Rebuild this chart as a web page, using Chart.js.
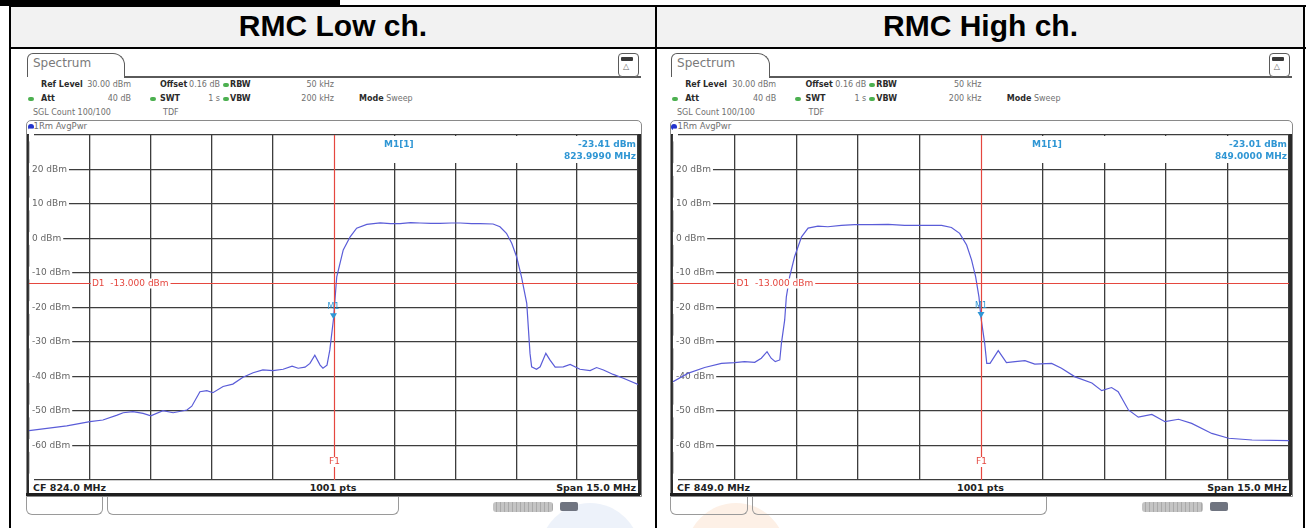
<!DOCTYPE html>
<html>
<head>
<meta charset="utf-8">
<script src="https://cdn.jsdelivr.net/npm/chart.js@4.4.0/dist/chart.umd.min.js"></script>
<style>
    body { margin: 0; width: 1306px; height: 528px; background: #fff; position: relative; overflow: hidden; font-family: "DejaVu Sans", sans-serif; }
    .a { position: absolute; white-space: nowrap; }
    .title { font-family: "Liberation Sans", Arial, sans-serif; font-weight: bold; font-size: 30px; color: #000; text-align: center; top: 8px; line-height: 36px; }
    .hd { font-size: 8px; line-height: 10px; color: #707070; }
    .hd b { color: #2b2b2b; }
    .dot { width: 6px; height: 4px; border-radius: 3px; background: #4cb050; }
    .ft { font-size: 9.5px; font-weight: bold; color: #222; line-height: 11px; }
    canvas { position: absolute; }
</style>
</head>
<body>
<div id="page"></div>
<script>
// ---- data ----
const levelTicks = [30, 20, 10, 0, -10, -20, -30, -40, -50, -60, -70];

const lowFreqTicks = [816.5, 818.0, 819.5, 821.0, 822.5, 824.0, 825.5, 827.0, 828.5, 830.0, 831.5];
const lowFreq = [816.5, 817.43, 818.0, 818.32, 818.67, 818.82, 819.06, 819.31, 819.5, 819.8, 820.05, 820.39, 820.51, 820.71, 820.88, 821.03, 821.28, 821.52, 821.77, 822.02, 822.26, 822.51, 822.76, 822.98, 823.13, 823.3, 823.42, 823.54, 823.67, 823.74, 823.84, 823.91, 823.999, 824.08, 824.24, 824.41, 824.57, 824.82, 825.15, 825.4, 825.64, 825.9, 826.13, 826.4, 826.62, 826.9, 827.12, 827.4, 827.61, 827.93, 828.1, 828.26, 828.39, 828.51, 828.63, 828.76, 828.84, 828.88, 829.0, 829.09, 829.23, 829.33, 829.46, 829.66, 829.83, 830.07, 830.32, 830.48, 830.65, 830.89, 831.14, 831.5];
const lowLevel = [-55.7, -54.3, -53.1, -52.6, -51.2, -50.5, -50.2, -50.7, -51.4, -49.9, -50.5, -49.7, -48.6, -44.4, -44.1, -44.7, -42.9, -42.2, -40.2, -38.9, -38.1, -38.3, -37.9, -37.0, -37.6, -37.3, -36.2, -33.8, -36.7, -37.6, -36.7, -32.3, -23.41, -11.1, -3.3, 0.5, 3.0, 4.1, 4.5, 4.3, 4.3, 4.6, 4.5, 4.4, 4.4, 4.5, 4.5, 4.3, 4.3, 4.2, 3.4, 1.5, -1.4, -5.3, -11.1, -18.8, -33.3, -37.2, -37.9, -37.2, -33.3, -35.2, -37.3, -37.2, -36.5, -37.9, -38.3, -37.4, -38.1, -39.4, -40.5, -42.3];

const highFreqTicks = [841.5, 843.0, 844.5, 846.0, 847.5, 849.0, 850.5, 852.0, 853.5, 855.0, 856.5];
const highFreq = [841.5, 841.86, 842.27, 842.68, 843.0, 843.24, 843.49, 843.65, 843.79, 843.89, 843.99, 844.1, 844.14, 844.22, 844.26, 844.34, 844.46, 844.63, 844.79, 845.03, 845.27, 845.6, 845.92, 846.33, 846.74, 847.14, 847.55, 848.04, 848.28, 848.48, 848.65, 848.77, 848.87, 848.95, 849.0, 849.09, 849.14, 849.22, 849.42, 849.62, 849.83, 850.07, 850.31, 850.72, 850.96, 851.29, 851.7, 851.94, 852.18, 852.34, 852.59, 852.83, 853.16, 853.48, 853.81, 854.13, 854.62, 855.03, 855.6, 856.5];
const highLevel = [-41.5, -39.1, -37.4, -36.2, -36.0, -35.7, -35.9, -34.7, -32.8, -34.7, -35.7, -35.2, -30.4, -23.6, -16.9, -11.1, -5.3, 0.5, 3.0, 3.6, 3.4, 3.8, 4.0, 4.0, 4.1, 3.8, 3.8, 3.8, 3.2, 1.5, -1.9, -6.2, -11.1, -16.9, -23.01, -30.4, -36.2, -36.2, -32.5, -36.0, -35.7, -35.4, -36.4, -36.2, -37.6, -40.1, -41.9, -44.1, -43.2, -44.4, -49.7, -51.8, -51.0, -53.1, -52.4, -53.6, -56.5, -57.9, -58.4, -58.6];

const displayLine = -13;
const RED = "#e5473f";
const BLUE = "#2f96d4";
const TRACE = "#5a5cd8";
const GRID = "#3d3d3d";

const panels = [
    { title: "RMC Low ch.", colLeft: 10, colRight: 656, x0: 29, x1: 638, cf: "CF 824.0 MHz",
      freq: lowFreq, level: lowLevel, ticks: lowFreqTicks, f1: 824.0, m1: [823.999, -23.41],
      info: ["-23.41 dBm", "823.9990 MHz"] },
    { title: "RMC High ch.", colLeft: 656, colRight: 1305, x0: 673, x1: 1289, cf: "CF 849.0 MHz",
      freq: highFreq, level: highLevel, ticks: highFreqTicks, f1: 849.0, m1: [849.0, -23.01],
      info: ["-23.01 dBm", "849.0000 MHz"] }
];

const page = document.getElementById("page");

function el(cls, css, html) {
    const d = document.createElement("div");
    d.className = "a " + (cls || "");
    Object.assign(d.style, css);
    if (html) d.innerHTML = html;
    page.appendChild(d);
    return d;
}

// text whose right edge sits at x
function rightText(cls, x, top, html) {
    return el(cls, { left: (x - 200) + "px", top: top + "px", width: "200px", textAlign: "right" }, html);
}

// table frame
el("", { left: "0px", top: "0px", width: "340px", height: "6px", background: "#000" });
el("", { left: "10px", top: "5px", width: "1295px", height: "43px", background: "#f2f2f2" });
el("", { left: "9px", top: "5px", width: "1297px", height: "2px", background: "#000" });
el("", { left: "9px", top: "47px", width: "1297px", height: "2px", background: "#000" });
el("", { left: "9px", top: "5px", width: "2px", height: "523px", background: "#000" });
el("", { left: "655px", top: "5px", width: "2px", height: "523px", background: "#000" });
el("", { left: "1303px", top: "5px", width: "2px", height: "523px", background: "#000" });

// faint watermark circles
el("", { left: "540px", top: "503px", width: "100px", height: "100px", borderRadius: "50%", background: "#edf2fa" });
el("", { left: "686px", top: "503px", width: "100px", height: "100px", borderRadius: "50%", background: "#fdf0e6" });

function buildPanel(p) {
    const s = (p.x1 - p.x0) / 609;
    const xr = r => p.x0 + r * s;
    const X = r => xr(r) + "px";

    el("title", { left: p.colLeft + "px", width: (p.colRight - p.colLeft) + "px" }, p.title);

    // tab + icon
    el("", { left: X(-2), top: "53px", width: 96 * s + "px", height: "23px", border: "1.5px solid #5a5a5a",
             borderBottom: "none", borderRadius: "6px 12px 0 0", background: "#fff" });
    el("", { left: X(95), top: "76px", width: 517 * s + "px", height: "1.5px", background: "#5a5a5a" });
    el("", { left: X(4), top: "56px", fontSize: "12px", color: "#7a7a7a", lineHeight: "14px" }, "Spectrum");
    el("", { left: X(589), top: "53px", width: "19px", height: "22px", border: "1.5px solid #5a5a5a", borderRadius: "4px", background: "#fff" });
    el("", { left: X(592), top: "57px", width: "12px", height: "4px", background: "#3a3a3a", borderRadius: "1px" });
    el("", { left: X(594), top: "62px", fontSize: "8px", color: "#666", lineHeight: "9px" }, "&#9651;");

    // setting rows
    const row1 = 80, row2 = 94, row3 = 108;
    el("hd", { left: X(12), top: row1 + "px" }, "<b>Ref Level</b>");
    rightText("hd", xr(102), row1, "30.00 dBm");
    el("hd", { left: X(131), top: row1 + "px" }, "<b>Offset</b>");
    rightText("hd", xr(191), row1, "0.16 dB");
    el("dot", { left: X(194), top: (row1 + 3) + "px" });
    el("hd", { left: X(201), top: row1 + "px" }, "<b>RBW</b>");
    rightText("hd", xr(305), row1, "50 kHz");

    el("dot", { left: X(-1), top: (row2 + 3) + "px" });
    el("hd", { left: X(12), top: row2 + "px" }, "<b>Att</b>");
    rightText("hd", xr(102), row2, "40 dB");
    el("dot", { left: X(121), top: (row2 + 3) + "px" });
    el("hd", { left: X(131), top: row2 + "px" }, "<b>SWT</b>");
    rightText("hd", xr(191), row2, "1 s");
    el("dot", { left: X(194), top: (row2 + 3) + "px" });
    el("hd", { left: X(201), top: row2 + "px" }, "<b>VBW</b>");
    rightText("hd", xr(305), row2, "200 kHz");
    el("hd", { left: X(330), top: row2 + "px" }, "<b>Mode</b> Sweep");

    el("hd", { left: X(4), top: row3 + "px" }, "SGL Count 100/100");
    el("hd", { left: X(134), top: row3 + "px" }, "TDF");

    // trace window frame
    el("", { left: X(-3), top: "120px", width: 614 * s + "px", height: "375px", border: "1px solid #8a8a8a", borderRadius: "5px 5px 0 0" });
    el("", { left: X(-1.5), top: "124px", width: "6px", height: "6px", borderRadius: "50%", background: "#2233cc" });
    el("hd", { left: X(4.5), top: "121px", fontSize: "8.5px" }, "1Rm AvgPwr");
    el("", { left: X(-2), top: "134px", width: "2px", height: "361px", background: "#2a2a2a" });
    el("", { left: p.x1 + "px", top: "134px", width: "2.5px", height: "361px", background: "#2a2a2a" });
    el("", { left: X(-3), top: "493px", width: 614 * s + "px", height: "3px", background: "#1e1e1e" });

    // footer
    el("ft", { left: X(4), top: "482px" }, p.cf);
    el("ft", { left: X(254), top: "482px", width: 100 * s + "px", textAlign: "center" }, "1001 pts");
    rightText("ft", xr(607), 482, "Span 15.0 MHz");

    // soft keys
    el("", { left: X(-3), top: "497px", width: 75 * s + "px", height: "17px", border: "1px solid #9a9a9a", borderTop: "none", borderRadius: "0 0 6px 6px" });
    el("", { left: X(78), top: "497px", width: 290 * s + "px", height: "17px", border: "1px solid #9a9a9a", borderTop: "none", borderRadius: "0 0 6px 6px" });
    el("", { left: X(464), top: "502px", width: 60 * s + "px", height: "10px", borderRadius: "3px",
             background: "repeating-linear-gradient(90deg,#c4c4c4 0 3px,#a9a9a9 3px 4px)" });
    el("", { left: X(531), top: "502px", width: "18px", height: "9px", borderRadius: "2px", background: "#6f7480" });

    // chart canvas
    const cv = document.createElement("canvas");
    const cl = p.x0 - 2, ct = 120, cw = (p.x1 - p.x0) + 5, ch = 377;
    cv.style.left = cl + "px"; cv.style.top = ct + "px";
    cv.style.width = cw + "px"; cv.style.height = ch + "px";
    cv.width = cw; cv.height = ch;
    page.appendChild(cv);
    renderSpectrum(cv, p);
}

const rsOverlay = {
    id: "rsOverlay",
    beforeDatasetsDraw(chart, args, o) {
        const { ctx, chartArea: a, scales: { x } } = chart;
        const fx = x.getPixelForValue(o.f1);
        ctx.save();
        ctx.fillStyle = "#fff";
        ctx.fillRect(fx + 6, a.top + 1, a.right - fx - 7, 27);
        ctx.restore();
    },
    afterDatasetsDraw(chart, args, o) {
        const { ctx, chartArea: a, scales: { x, y } } = chart;
        const fx = Math.round(x.getPixelForValue(o.f1)) + 0.5;
        const dy = Math.round(y.getPixelForValue(o.d1)) + 0.5;
        ctx.save();
        ctx.strokeStyle = RED;
        ctx.lineWidth = 1.2;
        ctx.beginPath(); ctx.moveTo(a.left, dy); ctx.lineTo(a.right, dy); ctx.stroke();
        ctx.beginPath(); ctx.moveTo(fx, a.top); ctx.lineTo(fx, a.bottom); ctx.stroke();

        // display line label
        ctx.font = '9px "DejaVu Sans"';
        ctx.textBaseline = "middle";
        const lbl = "D1  -13.000 dBm";
        const lx = x.getPixelForValue(o.ticks[1]) + 2;
        const w = ctx.measureText(lbl).width;
        ctx.fillStyle = "#fff"; ctx.fillRect(lx - 1, dy - 5, w + 3, 10);
        ctx.fillStyle = RED; ctx.fillText(lbl, lx, dy);

        // frequency line label
        ctx.textAlign = "center";
        ctx.fillStyle = "#fff"; ctx.fillRect(fx - 6, a.bottom - 23, 12, 10);
        ctx.fillStyle = RED; ctx.fillText("F1", fx, a.bottom - 18);

        // marker
        const mx = x.getPixelForValue(o.m1[0]), my = y.getPixelForValue(o.m1[1]);
        ctx.fillStyle = BLUE;
        ctx.beginPath(); ctx.moveTo(mx - 3.5, my - 6); ctx.lineTo(mx + 3.5, my - 6); ctx.lineTo(mx, my); ctx.closePath(); ctx.fill();
        ctx.font = '8px "DejaVu Sans"';
        ctx.fillText("M1", mx, my - 12);

        // marker readout
        ctx.font = 'bold 9px "DejaVu Sans"';
        ctx.textAlign = "left";
        ctx.fillText("M1[1]", a.left + o.infoX, a.top + 10);
        ctx.textAlign = "right";
        ctx.fillText(o.info[0], a.right - 2, a.top + 10);
        ctx.fillText(o.info[1], a.right - 2, a.top + 22);
        ctx.restore();
    }
};

function renderSpectrum(canvas, p) {
    const points = p.freq.map((f, i) => ({ x: f, y: p.level[i] }));
    new Chart(canvas.getContext("2d"), {
        type: "line",
        data: {
            datasets: [{
                data: points,
                borderColor: TRACE,
                borderWidth: 1.2,
                pointRadius: 0,
                tension: 0,
                fill: false
            }]
        },
        options: {
            responsive: false,
            animation: false,
            events: [],
            layout: { padding: { left: 2, right: 3, top: 15, bottom: 17 } },
            plugins: {
                legend: { display: false },
                tooltip: { enabled: false },
                rsOverlay: { f1: p.f1, d1: displayLine, m1: p.m1, info: p.info, ticks: p.ticks, infoX: 355 * (p.x1 - p.x0) / 609 }
            },
            scales: {
                x: {
                    type: "linear",
                    min: p.ticks[0],
                    max: p.ticks[p.ticks.length - 1],
                    afterBuildTicks: sc => { sc.ticks = p.ticks.map(v => ({ value: v })); },
                    afterFit: sc => { sc.height = 0; },
                    ticks: { display: false },
                    border: { display: false },
                    grid: {
                        color: c => (c.tick && c.tick.value === p.f1) ? "rgba(0,0,0,0)" : GRID,
                        lineWidth: 1.3,
                        drawTicks: false
                    }
                },
                y: {
                    min: -70,
                    max: 30,
                    afterBuildTicks: sc => { sc.ticks = levelTicks.map(v => ({ value: v })); },
                    afterFit: sc => { sc.width = 0; },
                    border: { display: false },
                    grid: { color: GRID, lineWidth: 1.3, drawTicks: false },
                    ticks: {
                        mirror: true,
                        padding: 3,
                        autoSkip: false,
                        color: "#666",
                        font: { family: "DejaVu Sans", size: 9 },
                        showLabelBackdrop: true,
                        backdropColor: "#fff",
                        backdropPadding: { top: 1, bottom: 1, left: 3, right: 2 },
                        callback: v => (v === 30 || v === -70) ? "" : v + " dBm"
                    }
                }
            }
        },
        plugins: [rsOverlay]
    });
}

panels.forEach(buildPanel);
</script>
</body>
</html>
